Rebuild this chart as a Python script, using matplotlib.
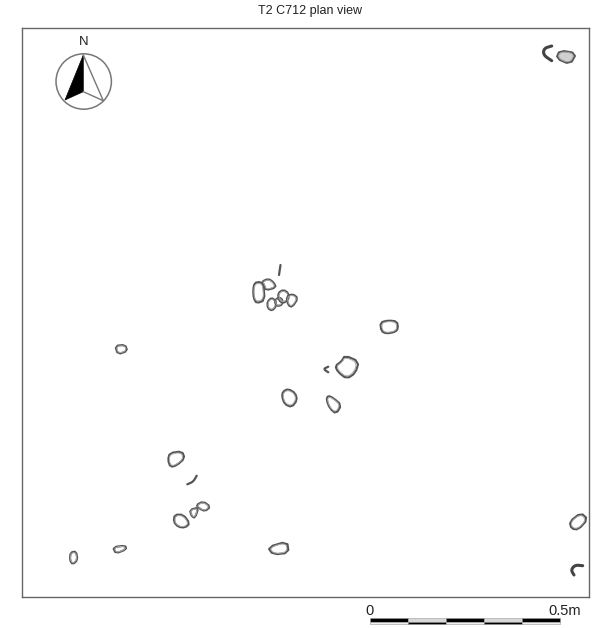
import numpy as np
import matplotlib
matplotlib.use("Agg")
import matplotlib.pyplot as plt
from matplotlib.patches import Polygon, Circle

plt.rcParams['font.family'] = ['Liberation Sans', 'DejaVu Sans']

# plan outlines in image pixels
stones = [
    [(254.7,283.3),(260,282.3),(263.3,285),(264.3,300),(256.7,302.7),(254,298.3),(253.3,290)],
    [(262.3,281.7),(268.3,279),(273.3,282.3),(275.7,287.3),(266,290),(264.3,285)],
    [(267.5,302),(271.5,298),(275.5,301),(276,306),(272,310.5),(268,308)],
    [(275.5,300),(279,297.5),(282.5,300),(282,304.5),(278,306),(275.5,304)],
    [(278.3,293.3),(283.3,290),(288.3,293.3),(288.3,299.3),(283,303),(279,300)],
    [(286.7,296.7),(292.7,294.3),(297.7,298.3),(292.3,306.7),(288.3,305)],
    [(380.7,322.7),(388.3,320.7),(396.7,321.7),(397.7,328.3),(395,331.7),(386.7,333.3),(381.7,331)],
    [(345,356),(358.3,361.7),(355,372.7),(346.7,378.3),(338.3,371.7),(335.7,366),(341.7,361.7)],
    [(288.3,389.3),(295,393.3),(296.7,400),(291.7,406.7),(285,404),(282.3,396.7),(283.3,391.7)],
    [(328.3,396),(333.3,398.3),(341,405),(336,413.3),(330,408.3),(326.7,400)],
    [(170,453.3),(181.7,451.7),(184.3,458.3),(176.7,465),(170.7,466.7),(168.3,460)],
    [(175,515),(183.3,515),(189.3,523.3),(185,527.3),(178.3,526.7),(174,521.7)],
    [(190,510),(198.3,507.7),(195,517.7),(191.7,516)],
    [(196.7,505),(203.3,501.7),(210,506.7),(205,511),(199.3,508.3)],
    [(113.3,547.3),(125,545.7),(126,549.3),(116,553.3)],
    [(70.7,552.7),(76,551.7),(77.3,560),(72.7,564),(70,560)],
    [(268.3,547.3),(286.7,541.7),(288.3,552.7),(273.3,554.3)],
    [(115.5,346),(125,345),(127,351),(118,354)],
    [(570,521.7),(580.7,513.3),(587.3,519.3),(578.3,529.3),(571.7,528.3)],
    [(560,50.7),(576,53.3),(570,64),(556.7,58.3)],
]
# small open strokes
strokes = [
    [(280.5,265),(279,275)],
    [(328.3,366.7),(323.3,369),(328.3,372.3)],
    [(196.7,475.7),(193.3,481.7),(187.3,484.3)],
]
# the thick crescents
crescents = [
    [(582.7,565.7),(575,565),(571,570),(574,575)],
    [(551.7,46),(544,48.3),(543.3,55),(551.7,60.7)],
]

scale_edges = [370, 407.5, 445.5, 483.5, 521.5, 559.5]
scale_labels = ["0", "0.5m"]


# round off the corners of an outline
def smooth(pts, closed=True, rounds=2):
    pts = np.array(pts, dtype=float)
    for _ in range(rounds):
        a = pts if closed else pts[:-1]
        b = np.roll(pts, -1, axis=0) if closed else pts[1:]
        new = np.empty((len(a) * 2, 2))
        new[0::2] = a * 0.75 + b * 0.25
        new[1::2] = a * 0.25 + b * 0.75
        if not closed:
            new = np.vstack([pts[0], new, pts[-1]])
        pts = new
    return pts


def rescale(pts, k):
    c = pts.mean(axis=0)
    return c + (pts - c) * k


def main():
    fig = plt.figure(figsize=(5.97, 6.28), dpi=100)
    # axes cover the drawing frame, data units are image pixels
    ax = fig.add_axes([22/597, 1 - 597/628, 567/597, 569/628])
    ax.set_xlim(22, 589)
    ax.set_ylim(597, 28)
    ax.set_xticks([])
    ax.set_yticks([])
    for s in ax.spines.values():
        s.set_color("#666666")
        s.set_linewidth(1.0)
    ax.text(310, 11, "T2 C712 plan view", ha="center", va="center", fontsize=9, color="#222222", clip_on=False)

    for i, st in enumerate(stones):
        outer = rescale(smooth(st, rounds=1), 1.05)
        fc = "#d0d0d0" if i == len(stones) - 1 else "none"
        ax.add_patch(Polygon(outer, closed=True, fc=fc, ec="#555555",
                             lw=1.5, joinstyle="round", clip_on=False))
        # sketchy second line of the pencil drawing
        ax.add_patch(Polygon(rescale(smooth(st), 0.9), closed=True, fill=False, ec="#aaaaaa",
                             lw=0.7, joinstyle="round", clip_on=False))
    for st in strokes:
        p = smooth(st, closed=False)
        ax.plot(p[:, 0], p[:, 1], color="#555555", lw=1.6, solid_capstyle="round")
    for st in crescents:
        p = smooth(st, closed=False)
        ax.plot(p[:, 0], p[:, 1], color="#444444", lw=2.2, solid_capstyle="round")

    # north arrow
    ax.add_patch(Circle((83.7, 81.5), 27.7, fill=False, ec="#777777", lw=1.1))
    ax.add_patch(Polygon([(83.3, 55), (65, 100), (83.3, 91.7)], closed=True, fc="black", ec="black", lw=0.5))
    ax.plot([83.3, 103.3, 83.3], [55, 100.7, 91.7], color="#777777", lw=1.0)
    ax.text(84, 42, "N", ha="center", va="center", fontsize=9.5, color="#222222")

    # scale bar
    for i in range(5):
        left = scale_edges[i]
        w = scale_edges[i + 1] - left
        top_c, bot_c = ("black", "#f0f0f0") if i % 2 == 0 else ("#d8d8d8", "black")
        ax.bar(left, 3.3, width=w, bottom=618.3, align="edge", color=top_c, ec="#999999", lw=0.4, clip_on=False)
        ax.bar(left, 2.8, width=w, bottom=621.6, align="edge", color=bot_c, ec="#999999", lw=0.4, clip_on=False)
    ax.text(369, 611, scale_labels[0], ha="center", va="center", fontsize=10.5, color="#222222", clip_on=False)
    ax.text(565, 611, scale_labels[1], ha="center", va="center", fontsize=10.5, color="#222222", clip_on=False)

    fig.savefig("out.png", dpi=100)


if __name__ == '__main__':
    main()
